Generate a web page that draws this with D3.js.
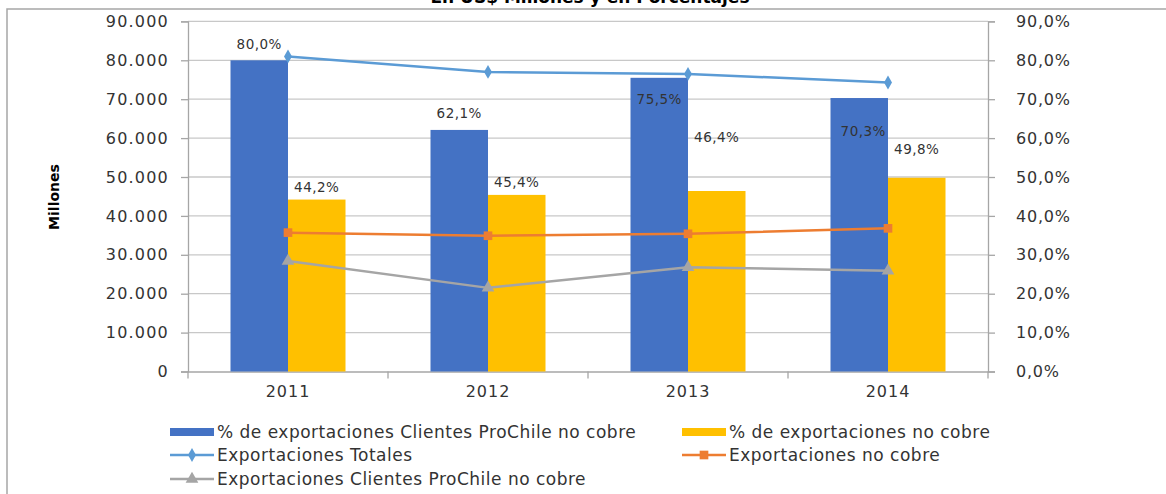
<!DOCTYPE html>
<html>
<head>
<meta charset="utf-8">
<script src="https://cdn.jsdelivr.net/npm/d3@7"></script>
<style>
  html, body { margin: 0; padding: 0; background: #ffffff; }
  svg { display: block; font-family: "DejaVu Sans", sans-serif; }
</style>
</head>
<body>
<svg id="chart" width="1166" height="494"></svg>
<script>
// ---------- data ----------
const years = ["2011", "2012", "2013", "2014"];
const pctClientesProChile = [0.800, 0.621, 0.755, 0.703];
const pctNoCobre = [0.442, 0.454, 0.464, 0.498];
const exportTotales = [81000, 77000, 76500, 74300];
const exportNoCobre = [35700, 34900, 35400, 36800];
const exportClientesProChile = [28400, 21500, 26800, 25900];
const leftTicks = [0, 10000, 20000, 30000, 40000, 50000, 60000, 70000, 80000, 90000];
const rightTicks = [0, 0.1, 0.2, 0.3, 0.4, 0.5, 0.6, 0.7, 0.8, 0.9];
const titleText = "En US$ Millones y en Porcentajes";
const yTitle = "Millones";
const seriesNames = [
  "% de exportaciones Clientes ProChile no cobre",
  "% de exportaciones no cobre",
  "Exportaciones Totales",
  "Exportaciones no cobre",
  "Exportaciones Clientes ProChile no cobre"
];

// ---------- layout (label nudges, not data) ----------
const blueLabelDy = [-16, -17, 21, 33];
const blueLabelDx = [0, 0, 0, 4];
const yellowLabelDy = [-12, -13, -54, -29];

const colors = { blue: "#4472c4", yellow: "#ffc000", lineBlue: "#5b9bd5", orange: "#ed7d31", gray: "#a5a5a5" };
const textColor = "#333333";

const loc = d3.formatLocale({ decimal: ",", thousands: ".", grouping: [3], currency: ["$", ""] });
const fmtNum = loc.format(",");
const fmtPct = loc.format(".1%");

const svg = d3.select("#chart");
const L = 188, R = 988, B = 371.5, T = 21.4;

const x = d3.scaleBand().domain(years).range([L, R]).padding(0);
const x1 = d3.scaleBand().domain(["blue", "yellow"]).range([42.5, 157.5]).padding(0);
const yL = d3.scaleLinear().domain([0, 90000]).range([B, T]);
const yR = d3.scaleLinear().domain([0, 0.9]).range([B, T]);

// border
svg.append("path").attr("d", "M7,494V9H1166").attr("fill", "none")
  .attr("stroke", "#a6a6a6").attr("stroke-width", 1.5);

// title (clipped at top, as in the reference)
svg.append("text").attr("x", 590).attr("y", 3).attr("text-anchor", "middle")
  .attr("font-size", 17).attr("font-weight", "bold").attr("fill", "#000").text(titleText);

// gridlines
svg.append("g").selectAll("line").data(leftTicks.slice(1)).join("line")
  .attr("x1", L).attr("x2", R).attr("y1", d => yL(d)).attr("y2", d => yL(d))
  .attr("stroke", "#c8c8c8").attr("stroke-width", 1.3);

// left axis
const gL = svg.append("g").attr("transform", `translate(${L},0)`)
  .call(d3.axisLeft(yL).tickValues(leftTicks).tickFormat(fmtNum).tickSize(7).tickPadding(12));
gL.select(".domain").attr("stroke", "#a6a6a6").attr("stroke-width", 1.3);
gL.selectAll(".tick line").attr("stroke", "#a6a6a6").attr("stroke-width", 1.3);
gL.selectAll(".tick text").attr("font-size", 16).attr("fill", textColor)
  .attr("font-family", "DejaVu Sans").attr("letter-spacing", 1.2);

// right axis
const gR = svg.append("g").attr("transform", `translate(${R},0)`)
  .call(d3.axisRight(yR).tickValues(rightTicks).tickFormat(fmtPct).tickSize(7).tickPadding(21));
gR.select(".domain").attr("stroke", "#a6a6a6").attr("stroke-width", 1.3);
gR.selectAll(".tick line").attr("stroke", "#a6a6a6").attr("stroke-width", 1.3);
gR.selectAll(".tick text").attr("font-size", 16).attr("fill", textColor)
  .attr("font-family", "DejaVu Sans").attr("letter-spacing", 0.8);

// bottom axis
const gB = svg.append("g").attr("transform", `translate(0,${B})`)
  .call(d3.axisBottom(x).tickSize(0).tickPadding(14));
gB.select(".domain").attr("stroke", "#a6a6a6").attr("stroke-width", 1.3);
gB.selectAll(".tick text").attr("font-size", 16).attr("fill", textColor)
  .attr("font-family", "DejaVu Sans").attr("letter-spacing", 1);
// category boundary ticks
svg.append("g").selectAll("line").data(years.concat(["end"])).join("line")
  .attr("x1", (d, i) => i < years.length ? x(d) : x(years[years.length - 1]) + x.bandwidth())
  .attr("x2", (d, i) => i < years.length ? x(d) : x(years[years.length - 1]) + x.bandwidth())
  .attr("y1", B).attr("y2", B + 7).attr("stroke", "#a6a6a6").attr("stroke-width", 1.3);

// y title
svg.append("text").attr("transform", `translate(59,197) rotate(-90)`).attr("text-anchor", "middle")
  .attr("font-size", 14).attr("font-weight", "bold").attr("fill", "#000").text(yTitle);

// bars
const bars = svg.append("g");
bars.selectAll("rect.b").data(years).join("rect").attr("class", "b")
  .attr("x", d => x(d) + x1("blue")).attr("width", x1.bandwidth())
  .attr("y", (d, i) => yR(pctClientesProChile[i])).attr("height", (d, i) => B - yR(pctClientesProChile[i]))
  .attr("fill", colors.blue);
bars.selectAll("rect.y").data(years).join("rect").attr("class", "y")
  .attr("x", d => x(d) + x1("yellow")).attr("width", x1.bandwidth())
  .attr("y", (d, i) => yR(pctNoCobre[i])).attr("height", (d, i) => B - yR(pctNoCobre[i]))
  .attr("fill", colors.yellow);

// bar labels
svg.append("g").selectAll("text").data(years).join("text")
  .attr("x", (d, i) => x(d) + x1("blue") + x1.bandwidth() / 2 + blueLabelDx[i])
  .attr("y", (d, i) => yR(pctClientesProChile[i]) + blueLabelDy[i])
  .attr("dy", "0.35em").attr("text-anchor", "middle").attr("font-size", 13.5)
  .attr("letter-spacing", 0.5).attr("fill", textColor)
  .text((d, i) => fmtPct(pctClientesProChile[i]));
svg.append("g").selectAll("text").data(years).join("text")
  .attr("x", d => x(d) + x1("yellow") + x1.bandwidth() / 2)
  .attr("y", (d, i) => yR(pctNoCobre[i]) + yellowLabelDy[i])
  .attr("dy", "0.35em").attr("text-anchor", "middle").attr("font-size", 13.5)
  .attr("letter-spacing", 0.5).attr("fill", textColor)
  .text((d, i) => fmtPct(pctNoCobre[i]));

// lines
const cx = d => x(d) + x.bandwidth() / 2;
function drawLine(values, color, symbolType, size) {
  const line = d3.line().x((v, i) => cx(years[i])).y(v => yL(v));
  svg.append("path").datum(values).attr("d", line).attr("fill", "none")
    .attr("stroke", color).attr("stroke-width", 2.5).attr("stroke-linejoin", "round");
  svg.append("g").selectAll("path").data(values).join("path")
    .attr("transform", (v, i) => `translate(${cx(years[i])},${yL(v)})`)
    .attr("d", d3.symbol().type(symbolType).size(size)).attr("fill", color);
}
drawLine(exportTotales, colors.lineBlue, d3.symbolDiamond, 55);
drawLine(exportNoCobre, colors.orange, d3.symbolSquare, 75);
drawLine(exportClientesProChile, colors.gray, d3.symbolTriangle, 70);

// legend
const legend = svg.append("g").attr("font-size", 17).attr("fill", textColor);
const legItems = [
  { name: seriesNames[0], type: "rect", color: colors.blue, x: 170, y: 432 },
  { name: seriesNames[1], type: "rect", color: colors.yellow, x: 682, y: 432 },
  { name: seriesNames[2], type: "line", color: colors.lineBlue, sym: d3.symbolDiamond, ss: 55, x: 170, y: 455 },
  { name: seriesNames[3], type: "line", color: colors.orange, sym: d3.symbolSquare, ss: 75, x: 682, y: 455 },
  { name: seriesNames[4], type: "line", color: colors.gray, sym: d3.symbolTriangle, ss: 70, x: 170, y: 479 }
];
legItems.forEach(it => {
  const g = legend.append("g");
  if (it.type === "rect") {
    g.append("rect").attr("x", it.x).attr("y", it.y - 4).attr("width", 44).attr("height", 8).attr("fill", it.color);
  } else {
    g.append("line").attr("x1", it.x).attr("x2", it.x + 44).attr("y1", it.y).attr("y2", it.y)
      .attr("stroke", it.color).attr("stroke-width", 2.5);
    g.append("path").attr("transform", `translate(${it.x + 22},${it.y})`)
      .attr("d", d3.symbol().type(it.sym).size(it.ss)).attr("fill", it.color);
  }
  g.append("text").attr("x", it.x + 47).attr("y", it.y).attr("dy", "0.35em")
    .attr("letter-spacing", 0.5).attr("fill", textColor).text(it.name);
});
</script>
</body>
</html>
